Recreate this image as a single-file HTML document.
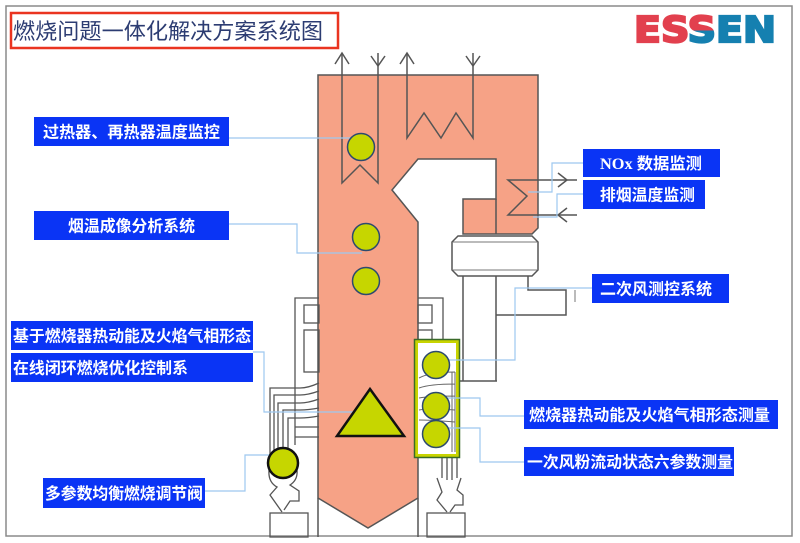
<!DOCTYPE html>
<html>
<head>
<meta charset="utf-8">
<style>
html,body{margin:0;padding:0;background:#fff;}
svg{display:block;}
.lbl{font-family:"Liberation Sans","Noto Sans CJK SC",sans-serif;font-weight:bold;font-size:16px;fill:#fff;}
</style>
</head>
<body>
<svg width="800" height="543" viewBox="0 0 800 543" xmlns="http://www.w3.org/2000/svg">
  <defs>
    <linearGradient id="sgrad" x1="0" y1="0" x2="0" y2="1">
      <stop offset="0.5" stop-color="#e2404e"/>
      <stop offset="0.5" stop-color="#1580b0"/>
    </linearGradient>
  </defs>
  <rect x="0" y="0" width="800" height="543" fill="#fff"/>
  <!-- outer frame -->
  <rect x="6" y="6" width="786" height="530" fill="none" stroke="#8a8a8a" stroke-width="1.5"/>

  <!-- title -->
  <rect x="11" y="13" width="327" height="35" fill="none" stroke="#ea3420" stroke-width="2.5"/>
  <text x="13" y="39" font-family="'Liberation Sans','Noto Sans CJK SC',sans-serif" font-size="22" fill="#2c3c72" textLength="310" lengthAdjust="spacingAndGlyphs">燃烧问题一体化解决方案系统图</text>

  <!-- logo -->
  <text x="634" y="42" font-family="'DejaVu Sans',sans-serif" font-weight="bold" font-size="36" textLength="142" lengthAdjust="spacingAndGlyphs" stroke-width="2.2" stroke-linejoin="miter"><tspan fill="#e2404e" stroke="#e2404e">ES</tspan><tspan fill="url(#sgrad)" stroke="url(#sgrad)">S</tspan><tspan fill="#1580b0" stroke="#1580b0">EN</tspan></text>

  <!-- boiler orange body -->
  <path d="M318,75 H538 V228 L532,234 H463 V199 H496 V159 H418 L392,190 L418,222 V498 L368,528 L318,498 Z" fill="#f6a286" stroke="#555" stroke-width="1.5"/>
  <line x1="496" y1="199" x2="496" y2="234" stroke="#555" stroke-width="1.5"/>
  <!-- column bottom walls -->
  <path d="M318,498 V537 M418,498 V537" stroke="#555" stroke-width="1.5" fill="none"/>

  <!-- ring header -->
  <path d="M458,236 H532 L538,242 V270 L532,276 H458 L452,270 V242 Z" fill="#fff" stroke="#555" stroke-width="1.5"/>
  <path d="M453,242 H537 M453,270 H537" stroke="#777" stroke-width="1" fill="none"/>
  <!-- duct -->
  <path d="M463,276 V381 M496,276 V381 M443,381 H497 M528,276 V290 H566 V315 H496" stroke="#555" stroke-width="1.5" fill="none"/>
  <line x1="575" y1="290" x2="575" y2="302" stroke="#777" stroke-width="1"/>

  <!-- superheater 1 -->
  <path d="M342,53 V183 L360,165 L378,183 V53" stroke="#555" stroke-width="1.5" fill="none"/>
  <path d="M335,64 L342,53 L349,64 M371,56 L378,66 L385,56" stroke="#555" stroke-width="1.5" fill="none"/>
  <!-- superheater 2 -->
  <path d="M407,53 V138 L424,113 L441,138 L456,113 L473,138 V53" stroke="#555" stroke-width="1.5" fill="none"/>
  <path d="M400,64 L407,53 L414,64 M466,56 L473,66 L480,56" stroke="#555" stroke-width="1.5" fill="none"/>
  <!-- economizer -->
  <path d="M577,180 H508 L527,196 L508,215 H577" stroke="#555" stroke-width="1.5" fill="none"/>
  <path d="M558,173 L567,180 L558,187 M567,208 L558,215 L567,222" stroke="#555" stroke-width="1.5" fill="none"/>

  <!-- left burner structure -->
  <g stroke="#555" stroke-width="1.3" fill="none">
    <path d="M319,298 H295 V445"/>
    <rect x="304" y="305" width="15" height="18"/>
    <rect x="304" y="330" width="15" height="42"/>
    <path d="M319,383 Q308,388 300,388 H270 V458"/>
    <path d="M319,391 Q308,395 300,395 H274 V452"/>
    <path d="M319,399 Q308,403 300,403 H278 V450"/>
    <path d="M319,408 Q308,410 300,410 H283 V449"/>
    <path d="M319,416 Q308,418 300,418 H288 V450"/>
    <path d="M295,427 H319 M295,437 H319"/>
    <path d="M269,470 Q268,482 277,487 L270,495 L282,512"/>
    <path d="M297,470 Q298,480 290,485 L299,491 V501 H290 L284,510"/>
    <rect x="270" y="513" width="38" height="24"/>
  </g>

  <!-- right burner structure -->
  <g stroke="#555" stroke-width="1.3" fill="none">
    <path d="M418,298 H443 V345"/>
    <rect x="418" y="305" width="14" height="18"/>
    <rect x="418" y="330" width="14" height="15"/>
    <path d="M442,456 V478 M447,456 V480 M452,456 V480 M457,456 V478"/>
    <path d="M437,478 L442,492 L437,500 L447,512"/>
    <path d="M461,478 L457,490 L463,495 V505 L455,505 L450,512"/>
    <rect x="427" y="513" width="38" height="24"/>
  </g>

  <!-- green burner box -->
  <rect x="416" y="341" width="42" height="115" fill="#fff" stroke="#c8d400" stroke-width="4"/>
  <rect x="414.5" y="339.5" width="45" height="118" fill="none" stroke="#3a6a2a" stroke-width="1.5"/>
  <g stroke="#666" stroke-width="1" fill="none">
    <path d="M419,378 Q430,372 455,372 M419,388 Q430,384 455,384 M419,398 Q430,396 455,396 M419,410 Q430,408 455,410 M419,420 Q430,420 455,422 M452,372 V452 M455,372 V452"/>
  </g>

  <!-- connectors -->
  <g stroke="#9dc8ef" stroke-width="1.2" fill="none">
    <path d="M229,138 H357"/>
    <path d="M229,224 H297 V253 H362"/>
    <path d="M583,163 H552 V192 H528"/>
    <path d="M583,194 H557 V217 H533"/>
    <path d="M253,352 H264 V412 H368"/>
    <path d="M205,491 H245 V455 H283"/>
    <path d="M592,288 H515 V360 H436"/>
    <path d="M524,416 H480 V398 H436"/>
    <path d="M524,462 H480 V428 H436"/>
  </g>

  <!-- circles -->
  <g fill="#c6d600" stroke="#2d4a6e" stroke-width="1.5">
    <circle cx="361" cy="147" r="13.5"/>
    <circle cx="366" cy="237" r="13.5"/>
    <circle cx="366" cy="281" r="13.5"/>
    <circle cx="436" cy="365" r="13.5"/>
    <circle cx="436" cy="406" r="13.5"/>
    <circle cx="436" cy="434" r="13.5"/>
  </g>
  <circle cx="283" cy="463" r="15" fill="#c6d600" stroke="#111" stroke-width="2.5"/>
  <!-- triangle -->
  <polygon points="370,389 404,436 337,436" fill="#c6d600" stroke="#111" stroke-width="2.5" stroke-linejoin="miter"/>

  <!-- blue labels -->
  <g fill="#0a34f5">
    <rect x="34" y="117" width="195" height="29"/>
    <rect x="34" y="211" width="195" height="29"/>
    <rect x="583" y="149" width="137" height="28"/>
    <rect x="583" y="180" width="122" height="29"/>
    <rect x="11" y="321" width="242" height="29"/>
    <rect x="11" y="353" width="242" height="29"/>
    <rect x="43" y="478" width="162" height="30"/>
    <rect x="592" y="274" width="137" height="29"/>
    <rect x="524" y="400" width="254" height="29"/>
    <rect x="524" y="447" width="210" height="29"/>
  </g>
  <g class="lbl">
    <text class="lbl" x="43" y="137.5" textLength="177" lengthAdjust="spacingAndGlyphs">过热器、再热器温度监控</text>
    <text class="lbl" x="68" y="231.5" textLength="127" lengthAdjust="spacingAndGlyphs">烟温成像分析系统</text>
    <text class="lbl" x="600" y="169" textLength="102" lengthAdjust="spacingAndGlyphs"><tspan font-family="'Liberation Serif',serif">NOx </tspan>数据监测</text>
    <text class="lbl" x="600" y="200.5" textLength="95" lengthAdjust="spacingAndGlyphs">排烟温度监测</text>
    <text class="lbl" x="13" y="341.5" textLength="238" lengthAdjust="spacingAndGlyphs">基于燃烧器热动能及火焰气相形态</text>
    <text class="lbl" x="13" y="373.5" textLength="175" lengthAdjust="spacingAndGlyphs">在线闭环燃烧优化控制系</text>
    <text class="lbl" x="45" y="499" textLength="158" lengthAdjust="spacingAndGlyphs">多参数均衡燃烧调节阀</text>
    <text class="lbl" x="600" y="294.5" textLength="112" lengthAdjust="spacingAndGlyphs">二次风测控系统</text>
    <text class="lbl" x="529" y="420.5" textLength="241" lengthAdjust="spacingAndGlyphs">燃烧器热动能及火焰气相形态测量</text>
    <text class="lbl" x="527" y="467.5" textLength="206" lengthAdjust="spacingAndGlyphs">一次风粉流动状态六参数测量</text>
  </g>
</svg>
</body>
</html>
